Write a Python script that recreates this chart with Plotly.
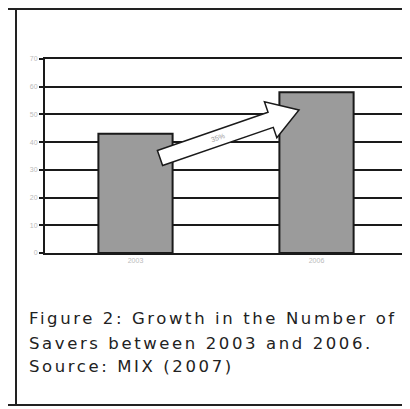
import math
import plotly.graph_objects as go

categories = ["2003", "2006"]
savers = [43, 58]
y_ticks = [0, 10, 20, 30, 40, 50, 60, 70]
growth_label = "35%"
caption_lines = ["Figure 2: Growth in the Number of",
                 "Savers between 2003 and 2006.",
                 "Source: MIX (2007)"]

OFF = 8  # default page body margin
W, H = 410 - OFF, 409 - OFF
# page-pixel geometry of the plot area
P_L, P_R, P_T, P_B = 45, 407, 59, 253
ML, MT = P_L - OFF, P_T - OFF
MR, MB = (W + OFF) - P_R, (H + OFF) - P_B
PW, PH = P_R - P_L, P_B - P_T
YMAX = 70

def px_to_data(px, py):
    x = (px - P_L) / PW * 2 - 0.5
    y = (P_B - py) / PH * YMAX
    return x, y

def px_to_paper(px, py):
    return (px - P_L) / PW, (P_B - py) / PH

fig = go.Figure()
fig.add_trace(go.Bar(
    x=[0, 1], y=savers, width=0.41,
    marker=dict(color="#9b9b9b", line=dict(color="#1a1a1a", width=2)),
    hoverinfo="skip"))

# block arrow (pixel-space geometry converted to data space)
tx, ty = 160, 158
hx, hy = 299, 110
dx, dy = hx - tx, hy - ty
L = math.hypot(dx, dy)
ux, uy = dx / L, dy / L
nx, ny = -uy, ux
sw, hw, hl = 8, 19, 30
bx, by = hx - ux * hl, hy - uy * hl
pts = [
    (tx + nx * sw, ty + ny * sw),
    (bx + nx * sw, by + ny * sw),
    (bx + nx * hw, by + ny * hw),
    (hx, hy),
    (bx - nx * hw, by - ny * hw),
    (bx - nx * sw, by - ny * sw),
    (tx - nx * sw, ty - ny * sw),
]
dpts = [px_to_data(*p) for p in pts]
path = "M " + " L ".join(f"{x:.4f},{y:.4f}" for x, y in dpts) + " Z"
fig.add_shape(type="path", path=path, xref="x", yref="y",
              fillcolor="white", line=dict(color="#1a1a1a", width=1.5), layer="above")
angle = -math.degrees(math.atan2(-dy, dx))
mx, my = px_to_data(tx + dx * 0.42, ty + dy * 0.42)
fig.add_annotation(x=mx, y=my, xref="x", yref="y", text=growth_label, showarrow=False,
                   textangle=angle, font=dict(size=7, color="#999", family="Liberation Sans"))

# outer frame
frame = dict(color="#222", width=2)
def pline(x0, y0, x1, y1):
    a0, b0 = px_to_paper(x0, y0)
    a1, b1 = px_to_paper(x1, y1)
    fig.add_shape(type="line", xref="paper", yref="paper",
                  x0=a0, x1=a1, y0=b0, y1=b1, line=frame)
pline(8, 9, 410, 9)
pline(16, 9, 16, 405)
pline(8, 405, 410, 405)

ys = [318, 343, 366]
for t, yy in zip(caption_lines, ys):
    ax, ay = px_to_paper(27, yy)
    fig.add_annotation(x=ax, y=ay, xref="paper", yref="paper",
                       text=f"<span style='letter-spacing:2.6px'>{t}</span>",
                       showarrow=False, xanchor="left", yanchor="middle",
                       font=dict(size=16.5, color="#222", family="DejaVu Sans"))

fig.update_layout(
    width=W, height=H, margin=dict(l=ML, r=MR, t=MT, b=MB),
    paper_bgcolor="white", plot_bgcolor="white", showlegend=False,
    xaxis=dict(range=[-0.5, 1.5], tickvals=[0, 1], ticktext=categories,
               showgrid=False, zeroline=False, showline=True, linecolor="#1a1a1a", linewidth=2,
               mirror=True, ticks="", tickfont=dict(size=7, color="#bbb", family="Liberation Sans")),
    yaxis=dict(range=[0, YMAX], tickvals=y_ticks, showgrid=True, gridcolor="#1a1a1a", gridwidth=2,
               zeroline=False, showline=True, linecolor="#1a1a1a", linewidth=2,
               ticks="outside", ticklen=4, tickcolor="#1a1a1a", tickwidth=2,
               tickfont=dict(size=7, color="#bbb", family="Liberation Sans")),
)
fig.add_shape(type="line", xref="paper", yref="paper", x0=1, x1=1, y0=0, y1=1,
              line=dict(color="#ccc", width=1))
fig.write_html("out.html")
